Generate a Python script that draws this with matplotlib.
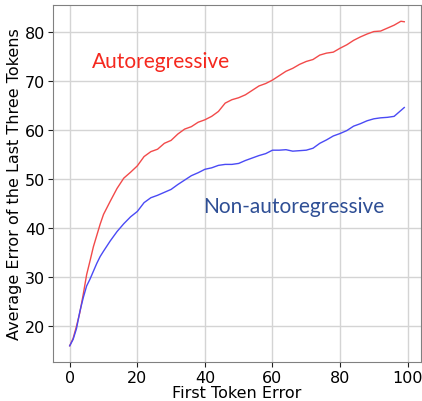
import numpy as np
import matplotlib
matplotlib.use('Agg')
import matplotlib.pyplot as plt

# first token error (x) and the two averaged error curves
first_err = [0, 1, 2, 3, 4, 5, 6, 7, 8, 9, 10, 12, 14, 16, 18, 20, 22, 24, 26, 28,
             30, 32, 34, 36, 38, 40, 42, 44, 46, 48, 50, 52, 54, 56, 58, 60, 62, 64,
             66, 68, 70, 72, 74, 76, 78, 80, 82, 84, 86, 88, 90, 92, 94, 96, 98, 99]

auto_err = [16.0, 17.5, 20.0, 22.8, 26.5, 30.5, 33.3, 36.2, 38.5, 40.8, 42.8, 45.5,
            48.1, 50.2, 51.4, 52.7, 54.6, 55.6, 56.1, 57.3, 57.9, 59.2, 60.2, 60.7,
            61.6, 62.1, 62.8, 63.8, 65.5, 66.2, 66.6, 67.2, 68.1, 69.0, 69.5, 70.2,
            71.1, 72.0, 72.6, 73.4, 74.0, 74.4, 75.3, 75.7, 75.9, 76.7, 77.4, 78.3,
            79.0, 79.6, 80.1, 80.2, 80.8, 81.4, 82.2, 82.1]

nonauto_err = [16.0, 17.3, 19.5, 23.0, 25.8, 28.2, 29.6, 31.2, 32.8, 34.2, 35.3, 37.4,
               39.3, 40.9, 42.3, 43.4, 45.2, 46.2, 46.7, 47.3, 47.9, 48.9, 49.8, 50.7,
               51.3, 52.0, 52.3, 52.8, 53.0, 53.0, 53.2, 53.8, 54.3, 54.8, 55.2, 55.9,
               55.9, 56.0, 55.7, 55.8, 55.9, 56.3, 57.3, 58.0, 58.8, 59.3, 59.9, 60.8,
               61.3, 61.9, 62.3, 62.5, 62.6, 62.8, 64.0, 64.6]

fig = plt.figure(figsize=(4.22, 4.02), dpi=100)
ax = fig.add_axes([0.1256, 0.097, 0.872, 0.888])

ax.plot(first_err, auto_err, color='#f24a4a', lw=1.0)
ax.plot(first_err, nonauto_err, color='#4a4af5', lw=1.0)

ax.grid(True, color='#d4d4d4', lw=1.0)
ax.set_axisbelow(True)
for s in ax.spines.values():
    s.set_color('#808080')

ax.set_xticks([0, 20, 40, 60, 80, 100])
ax.set_yticks([20, 30, 40, 50, 60, 70, 80])
ax.tick_params(labelsize=11.5, colors='#202020', labelcolor='black', pad=2)
ax.set_xlabel('First Token Error', fontsize=11.5, labelpad=0)
ax.set_ylabel('Average Error of the Last Three Tokens', fontsize=11.5, labelpad=2)

ax.text(6.5, 74.1, 'Autoregressive', color='#f5281e', fontsize=15,
        family=['Lato', 'DejaVu Sans'], va='center', ha='left')
ax.text(39.5, 44.6, 'Non-autoregressive', color='#2f4f95', fontsize=15,
        family=['Lato', 'DejaVu Sans'], va='center', ha='left')

fig.savefig('out.png', dpi=100)
